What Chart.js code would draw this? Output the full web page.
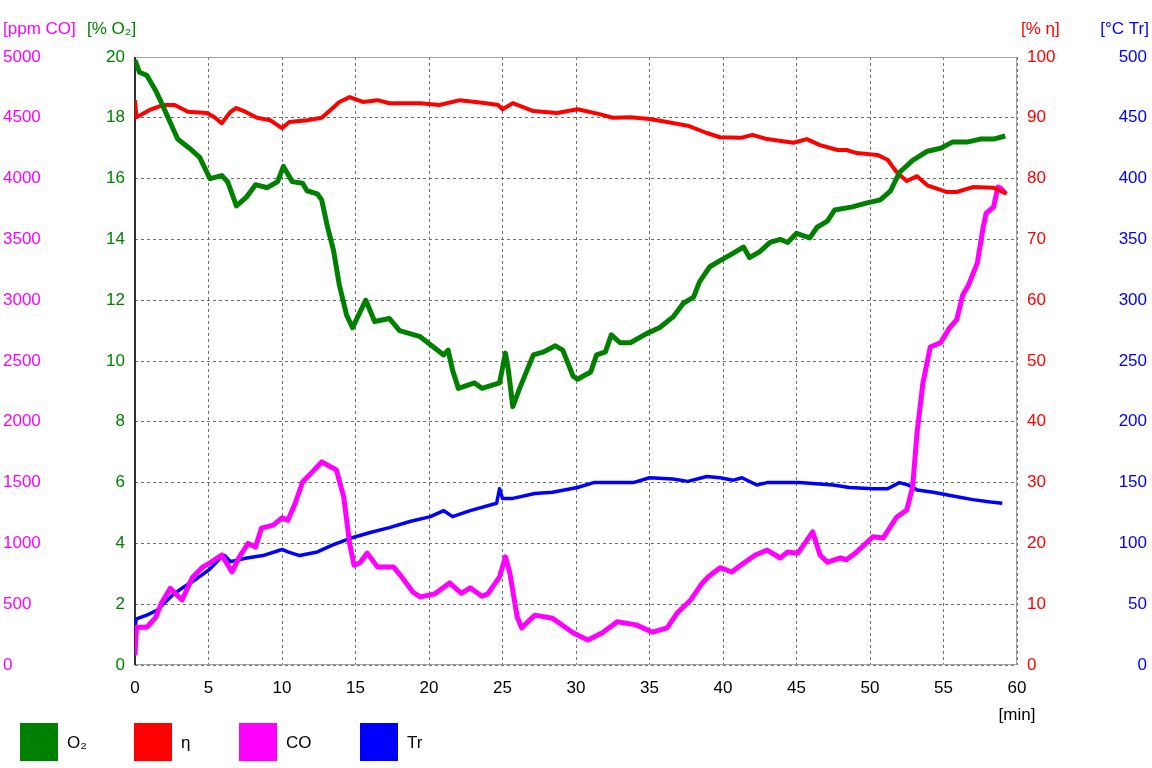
<!DOCTYPE html>
<html>
<head>
<meta charset="utf-8">
<script src="https://cdn.jsdelivr.net/npm/chart.js@4"></script>
<style>
html,body{margin:0;padding:0;background:#fff}
</style>
</head>
<body>
<canvas id="chart" width="1152" height="768"></canvas>
<script>
// time in minutes
const o2Time = [0,0.3,0.8,1.4,1.7,2.9,3.7,4.4,5.1,5.9,6.3,6.9,7.6,8.2,9.0,9.7,10.1,10.7,11.4,11.7,12.4,12.7,13.1,13.5,13.9,14.4,14.8,15.2,15.7,16.3,17.3,18.0,19.4,20.3,21.0,21.3,21.6,22.0,22.6,23.1,23.6,24.8,25.2,25.4,25.7,26.2,27.1,27.8,28.6,29.1,29.8,30.1,31.0,31.4,32.0,32.4,33.0,33.7,34.8,35.7,36.6,37.3,38.0,38.4,39.1,39.8,40.7,41.4,41.8,42.5,43.2,43.9,44.4,45.0,45.9,46.4,47.1,47.6,48.8,49.8,50.7,51.4,52.0,52.9,53.9,54.8,55.6,56.6,57.5,58.4,59.2]
const o2Values = [19.9,19.5,19.4,18.9,18.6,17.3,17.0,16.7,16.0,16.1,15.9,15.1,15.4,15.8,15.7,15.9,16.4,15.9,15.85,15.6,15.5,15.3,14.4,13.65,12.5,11.5,11.1,11.5,12.0,11.3,11.4,11.0,10.8,10.46,10.2,10.36,9.7,9.1,9.2,9.28,9.1,9.28,10.26,9.7,8.5,9.14,10.2,10.3,10.5,10.36,9.5,9.4,9.64,10.2,10.3,10.86,10.6,10.6,10.9,11.1,11.45,11.9,12.1,12.6,13.1,13.3,13.55,13.75,13.4,13.6,13.9,14.0,13.9,14.2,14.05,14.4,14.6,14.97,15.07,15.2,15.3,15.6,16.2,16.6,16.9,17.0,17.2,17.2,17.3,17.3,17.4]

const etaTime = [0,0.1,1.0,1.9,2.7,3.6,4.9,5.4,5.9,6.5,6.9,7.5,8.3,9.2,10.0,10.5,11.7,12.7,13.3,13.9,14.6,15.5,16.5,17.3,19.4,20.7,22.1,23.9,24.7,25.0,25.7,27.1,28.7,30.1,31.6,32.5,33.7,35.0,36.2,37.6,38.9,39.8,41.2,42.0,43.0,44.8,45.7,46.6,47.8,48.4,49.1,50.5,51.2,51.8,52.5,53.2,53.9,55.2,55.9,57.0,58.4,59.3]
const etaValues = [92.9,90.1,91.3,92.1,92.1,91.0,90.8,90.1,89.1,91.0,91.6,91.0,90.0,89.6,88.3,89.3,89.6,90.0,91.3,92.6,93.4,92.6,92.9,92.4,92.4,92.1,92.9,92.4,92.1,91.4,92.4,91.1,90.8,91.4,90.6,90.0,90.1,89.8,89.3,88.7,87.5,86.8,86.7,87.2,86.5,85.9,86.5,85.5,84.7,84.7,84.2,83.9,83.1,81.1,79.6,80.4,78.9,77.8,77.8,78.6,78.5,77.5]

const coTime = [0,0.1,0.8,1.4,1.8,2.4,3.2,3.9,4.6,5.1,5.9,6.6,7.1,7.7,8.2,8.6,9.4,10.0,10.4,10.9,11.4,12.0,12.7,13.7,14.2,14.6,14.9,15.3,15.8,16.5,17.6,18.2,18.9,19.4,20.4,21.4,22.2,22.8,23.6,24.0,24.8,25.2,25.5,26.0,26.3,27.2,28.4,29.8,30.8,31.8,32.8,34.1,35.2,36.2,36.9,37.8,38.6,39.0,39.8,40.6,41.2,42.2,43.0,43.9,44.4,45.1,46.1,46.6,47.1,48.0,48.4,49.1,50.2,50.9,51.8,52.5,52.9,53.2,53.6,54.1,54.8,55.4,55.9,56.3,56.7,57.3,57.7,57.9,58.4,58.7,58.9,59.2]
const coValues = [80,310,310,390,510,630,535,720,805,840,905,765,890,1000,970,1125,1150,1210,1190,1330,1505,1580,1670,1605,1380,1000,820,840,920,805,805,715,600,560,585,675,590,635,565,585,725,890,755,395,305,410,385,265,205,265,355,330,270,305,430,535,675,725,800,765,820,905,945,880,930,920,1095,905,845,880,865,930,1055,1045,1215,1275,1465,1910,2320,2615,2650,2770,2840,3040,3125,3305,3600,3715,3765,3930,3920,3880]

const trTime = [0,0.1,0.8,1.5,2.0,2.5,3.3,4.2,5.0,5.9,6.1,6.5,7.6,8.7,10.0,10.4,11.2,12.4,13.5,14.6,16.0,17.3,18.7,20.1,21.0,21.6,22.8,24.6,24.8,25.0,25.7,27.2,28.4,30.1,31.2,32.5,33.9,35.0,36.6,37.6,38.9,39.8,40.7,41.3,42.3,43.0,45.2,47.5,48.6,50.2,51.2,52.0,52.6,53.2,54.3,55.2,56.1,57.0,58.2,59.0]
const trValues = [31,38,41,45,51,57,64,71,78,89,90,85,88,90,95,93,90,93,99,104,109,113,118,122,127,122,127,133,145,137,137,141,142,146,150,150,150,154,153,151,155,154,152,154,148,150,150,148,146,145,145,150,148,144,142,140,138,136,134,133]

const seriesNames = ["O\u2082","\u03b7","CO","Tr"]
const seriesColors = ["#008000","#ff0000","#ff00ff","#0000ff"]
const axisTitles = ["[ppm CO]","[% O\u2082]","[% \u03b7]","[\u00b0C Tr]"]

function pts(t,v){ return t.map((x,i)=>({x:x,y:v[i]})) }

const FONT = "'Liberation Sans', Arial, sans-serif"
Chart.defaults.font.family = FONT
Chart.defaults.font.size = 17

// cadre + titres des axes + légende
const decor = {
id:"decor",
beforeDatasetsDraw(chart){
const {ctx, chartArea:a} = chart
ctx.save()
ctx.strokeStyle = "#a0a0a0"
ctx.lineWidth = 1
ctx.strokeRect(a.left+0.5, a.top+0.5, a.right-a.left-1, a.bottom-a.top-1)
ctx.strokeStyle = "#303030"
ctx.lineWidth = 2
ctx.beginPath()
ctx.moveTo(a.left, a.top)
ctx.lineTo(a.left, a.bottom)
ctx.stroke()
ctx.restore()
},
afterDraw(chart){
const {ctx, chartArea:a} = chart
ctx.save()
ctx.font = "17px " + FONT
ctx.textBaseline = "middle"
ctx.textAlign = "left"
ctx.fillStyle = seriesColors[2]
ctx.fillText(axisTitles[0], 3, 29)
ctx.fillStyle = seriesColors[0]
ctx.fillText(axisTitles[1], 87, 29)
ctx.fillStyle = seriesColors[1]
ctx.fillText(axisTitles[2], 1021, 29)
ctx.textAlign = "right"
ctx.fillStyle = seriesColors[3]
ctx.fillText(axisTitles[3], 1149, 29)
ctx.textAlign = "center"
ctx.fillStyle = "#000"
ctx.fillText("[min]", a.right, 715)

// légende
const lx = [20,134,239,360]
ctx.textAlign = "left"
chart.data.datasets.forEach((ds,i)=>{
ctx.fillStyle = ds.borderColor
ctx.fillRect(lx[i], 723, 38, 38)
ctx.fillStyle = "#000"
ctx.fillText(ds.label, lx[i]+47, 743)
})
ctx.restore()
}
}

function fixW(w){ return s=>{ s.width = w } }
const plain = v=>String(v)

const gridDash = {display:false, dash:[3,3]}

new Chart(document.getElementById("chart"),{
type:"line",
data:{
datasets:[
{label:seriesNames[0], data:pts(o2Time,o2Values), yAxisID:"o2", borderColor:seriesColors[0], backgroundColor:seriesColors[0], borderWidth:5},
{label:seriesNames[1], data:pts(etaTime,etaValues), yAxisID:"eta", borderColor:seriesColors[1], backgroundColor:seriesColors[1], borderWidth:4},
{label:seriesNames[2], data:pts(coTime,coValues), yAxisID:"co", borderColor:seriesColors[2], backgroundColor:seriesColors[2], borderWidth:5},
{label:seriesNames[3], data:pts(trTime,trValues), yAxisID:"tr", borderColor:seriesColors[3], backgroundColor:seriesColors[3], borderWidth:3.5}
]
},
options:{
responsive:false,
animation:false,
devicePixelRatio:1,
layout:{padding:{top:57, left:3, right:5, bottom:0}},
elements:{point:{radius:0}, line:{tension:0, borderJoinStyle:"round"}},
plugins:{legend:{display:false}, tooltip:{enabled:false}},
scales:{
x:{
type:"linear", min:0, max:60,
ticks:{stepSize:5, color:"#000", padding:13, callback:plain},
grid:{color:"#707070", drawTicks:false},
border:gridDash,
afterFit(s){ s.height = 103 }
},
co:{
position:"left", weight:1, min:0, max:5000,
ticks:{stepSize:500, color:seriesColors[2], crossAlign:"far", padding:7, callback:plain},
grid:{display:false, drawTicks:false},
border:{display:false},
afterFit:fixW(45)
},
o2:{
position:"left", weight:0, min:0, max:20,
ticks:{stepSize:2, color:seriesColors[0], padding:10, callback:plain},
grid:{color:"#707070", drawTicks:false},
border:gridDash,
afterFit:fixW(87)
},
eta:{
position:"right", weight:0, min:0, max:100,
ticks:{stepSize:10, color:seriesColors[1], padding:10, callback:plain},
grid:{display:false, drawTicks:false},
border:{display:false},
afterFit:fixW(90)
},
tr:{
position:"right", weight:1, min:0, max:500,
ticks:{stepSize:50, color:seriesColors[3], crossAlign:"far", padding:7, callback:plain},
grid:{display:false, drawTicks:false},
border:{display:false},
afterFit:fixW(40)
}
}
},
plugins:[decor]
})
</script>
</body>
</html>
